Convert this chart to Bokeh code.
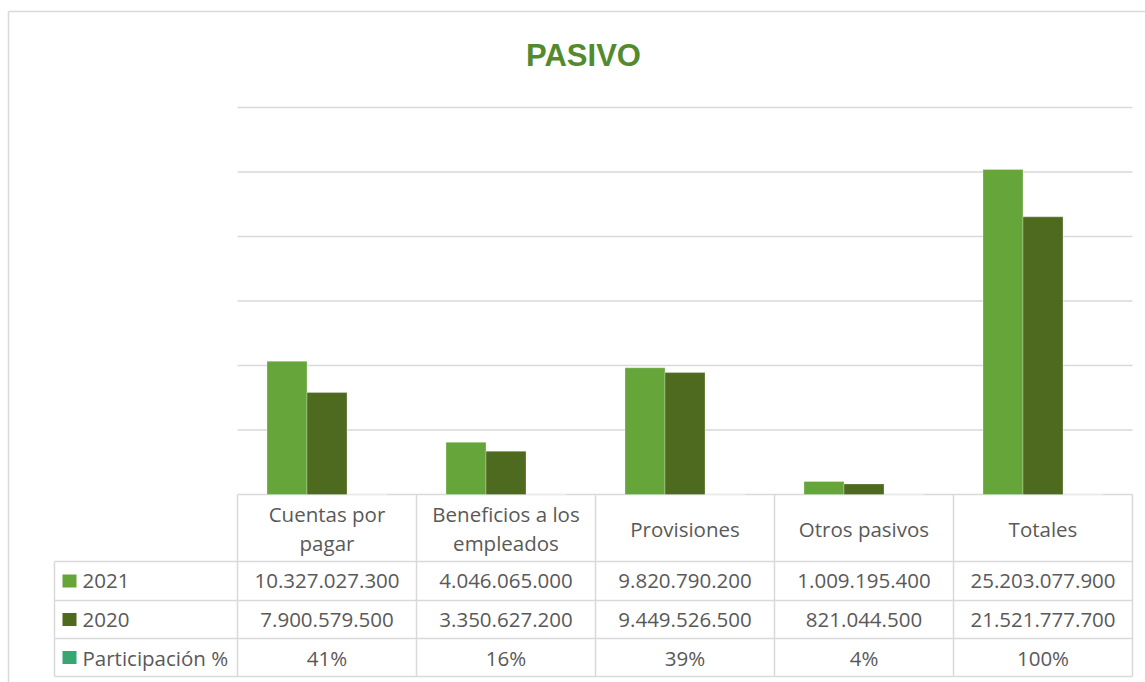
import textwrap
from bokeh.plotting import figure
from bokeh.models import Range1d, ColumnDataSource
from bokeh.core.properties import value
from bokeh.embed import file_html
from bokeh.resources import INLINE

# ---------------- data ----------------
categories = ["Cuentas por pagar", "Beneficios a los empleados", "Provisiones",
              "Otros pasivos", "Totales"]
series_names = ["2021", "2020", "Participación %"]
values_2021 = [10327027300, 4046065000, 9820790200, 1009195400, 25203077900]
values_2020 = [7900579500, 3350627200, 9449526500, 821044500, 21521777700]
participacion = [41, 16, 39, 4, 100]
y_ticks = [0, 5e9, 10e9, 15e9, 20e9, 25e9, 30e9]
title_text = "PASIVO"

# ---------------- layout / style ----------------
W, H = 1145, 682
PL, PR, PT, PB = 237, 1132, 107, 494      # plot area in pixels
YMAX = 30e9
TL = 54                                   # table left edge
ROW_LINES = [561, 600, 638, 676]
HEADER_Y = 528
ROW_Y = [580.5, 619, 657]
CW = (PR - PL) / len(categories)
BW = 40 / CW
colors = ["#66A53A", "#4E6A1E", "#36A673"]
GRID = "#D9D9D9"
TXT = "#595959"
FONT = value("Open Sans")
FS = "20.5px"

p = figure(width=W, height=H, x_range=Range1d(0, W), y_range=Range1d(H, 0),
           output_backend="svg", toolbar_location=None, min_border=0,
           outline_line_color=None, x_axis_location=None, y_axis_location=None)
p.grid.visible = False
p.background_fill_color = "white"
p.extra_x_ranges = {"cat": Range1d(-PL / CW, (W - PL) / CW)}
p.extra_y_ranges = {"val": Range1d(-(H - PB) / (PB - PT) * YMAX, PB / (PB - PT) * YMAX)}

# outer chart border
p.segment(x0=[8, 8], y0=[11, 11], x1=[8, W + 5], y1=[H + 5, 11], line_color=GRID, line_width=1.5)

# gridlines
p.segment(x0=PL, x1=PR, y0=y_ticks, y1=y_ticks, y_range_name="val", line_color=GRID, line_width=1.5)

# bars
n = len(series_names)
series_vals = [values_2021, values_2020, [v / 100 for v in participacion]]
for k, (vals, col) in enumerate(zip(series_vals, colors)):
    xs = [i + 0.5 + (k - (n - 1) / 2) * BW for i in range(len(categories))]
    src = ColumnDataSource(dict(x=xs, top=vals))
    p.vbar(x="x", top="top", bottom=0, width=BW, source=src, x_range_name="cat",
           y_range_name="val", fill_color=col, line_color="#FFFFFF", line_alpha=0.4, line_width=0.7)

# table lines
cat_edges = [i for i in range(len(categories) + 1)]
p.segment(x0=cat_edges, x1=cat_edges, y0=PB, y1=ROW_LINES[-1], x_range_name="cat",
          line_color=GRID, line_width=1.5)
p.segment(x0=[TL], x1=[TL], y0=[ROW_LINES[0]], y1=[ROW_LINES[-1]], line_color=GRID, line_width=1.5)
p.segment(x0=TL, x1=PR, y0=ROW_LINES, y1=ROW_LINES, line_color=GRID, line_width=1.5)

# header text
p.text(x=[i + 0.5 for i in range(len(categories))], y=HEADER_Y,
       text=[textwrap.fill(c, 16) for c in categories], x_range_name="cat",
       text_align="center", text_baseline="middle", text_font=FONT, text_font_size=FS,
       text_color=TXT, text_line_height=1.05)

def fmt(v):
    return f"{v:,}".replace(",", ".")

row_texts = [[fmt(v) for v in values_2021], [fmt(v) for v in values_2020],
             [f"{v}%" for v in participacion]]
for r, texts in enumerate(row_texts):
    p.text(x=[i + 0.5 for i in range(len(categories))], y=ROW_Y[r], text=texts,
           x_range_name="cat", text_align="center", text_baseline="middle",
           text_font=FONT, text_font_size=FS, text_color=TXT)

# legend column
p.rect(x=69, y=ROW_Y, width=14, height=13, width_units="screen", height_units="screen",
       fill_color=colors, line_color=None)
p.text(x=82, y=ROW_Y, text=series_names, text_align="left", text_baseline="middle",
       text_font=FONT, text_font_size=FS, text_color=TXT)

# title
p.text(x=[583], y=[55], text=[title_text], text_align="center", text_baseline="middle",
       text_font=value("Liberation Sans"), text_font_style="bold",
       text_font_size="31px", text_color="#538A2E")

open("out.html", "w").write(file_html(p, INLINE))
